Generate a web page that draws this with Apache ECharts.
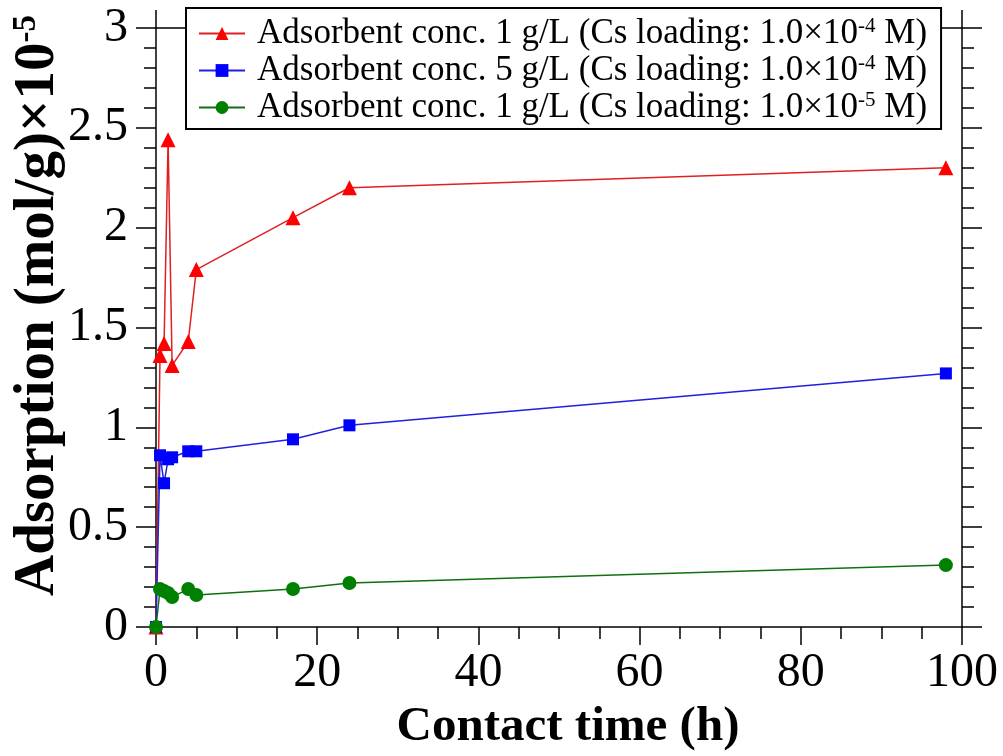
<!DOCTYPE html>
<html><head><meta charset="utf-8">
<script src="https://cdn.jsdelivr.net/npm/echarts@6/dist/echarts.min.js"></script>
<style>html,body{margin:0;padding:0;background:#fff}#c{width:1003px;height:756px}</style>
</head><body><div id="c"></div>
<script>
const timeRed = [0, 0.5, 1, 1.5, 2, 4, 5, 17, 24, 98];
const red = [0, 1.36, 1.42, 2.44, 1.31, 1.43, 1.79, 2.05, 2.20, 2.30];
const timeBlue = [0, 0.5, 1, 1.5, 2, 4, 5, 17, 24, 98];
const blue = [0, 0.86, 0.72, 0.84, 0.85, 0.88, 0.88, 0.94, 1.01, 1.27];
const timeGreen = [0, 0.5, 1, 1.5, 2, 4, 5, 17, 24, 98];
const green = [0, 0.19, 0.18, 0.17, 0.15, 0.19, 0.16, 0.19, 0.22, 0.31];
const names = [
  'Adsorbent conc. 1 g/L (Cs loading: 1.0×10-4 M)',
  'Adsorbent conc. 5 g/L (Cs loading: 1.0×10-4 M)',
  'Adsorbent conc. 1 g/L (Cs loading: 1.0×10-5 M)'
];
const legendRich = [
  ['Adsorbent conc. 1 g/L (Cs loading: 1.0×10', '-4', ' M)'],
  ['Adsorbent conc. 5 g/L (Cs loading: 1.0×10', '-4', ' M)'],
  ['Adsorbent conc. 1 g/L (Cs loading: 1.0×10', '-5', ' M)']
];
const xTicks = [0, 20, 40, 60, 80, 100];
const yTicks = [0, 0.5, 1, 1.5, 2, 2.5, 3];

function pairs(xs, ys){ return xs.map((x,i)=>[x, ys[i]]); }

const serif = '"Liberation Serif", "DejaVu Serif", serif';
const chart = echarts.init(document.getElementById('c'), null, {renderer:'canvas'});
const axLine = {show:true, onZero:false, lineStyle:{color:'#000', width:1.5}};
const baseX = {
  type:'value', min:0, max:100, interval:20,
  axisLine:axLine, splitLine:{show:false},
  axisTick:{show:true, inside:false, length:18, lineStyle:{color:'#000', width:1.5}},
  minorTick:{show:true, splitNumber:4, length:12, lineStyle:{color:'#000', width:1.5}}
};
const baseY = {
  type:'value', min:0, max:3, interval:0.5,
  axisLine:axLine, splitLine:{show:false},
  axisTick:{show:true, inside:false, length:20, lineStyle:{color:'#000', width:1.5}},
  minorTick:{show:true, splitNumber:5, length:12, lineStyle:{color:'#000', width:1.5}}
};
const option = {
  animation:false,
  backgroundColor:'#fff',
  grid:{left:156, right:41, top:28, bottom:129, containLabel:false, outerBoundsMode:'none'},
  legend:{
    data:names, orient:'vertical', left:186, top:8,
    backgroundColor:'#fff', borderColor:'#000', borderWidth:2, borderRadius:0,
    padding:[8,14,4,12], itemGap:2, itemWidth:46, itemHeight:16,
    formatter:function(n){ const r = legendRich[names.indexOf(n)]; return '{f|'+r[0]+'}{s|'+r[1]+'}{a|'+r[2]+'}'; },
    textStyle:{ rich:{
      f:{fontFamily:serif, fontSize:35, color:'#000', lineHeight:35, padding:[0,0,0,7]},
      a:{fontFamily:serif, fontSize:35, color:'#000', lineHeight:35},
      s:{fontFamily:serif, fontSize:21, color:'#000', verticalAlign:'top', lineHeight:35, padding:[0,0,14,0]}
    }}
  },
  xAxis:[
    Object.assign({}, baseX, {position:'bottom',
      name:'Contact time (h)', nameLocation:'middle', nameGap:76, nameMoveOverlap:false,
      nameTextStyle:{fontFamily:serif, fontWeight:'bold', fontSize:49, color:'#000', padding:[0,0,0,18]},
      axisLabel:{show:true, margin:22, fontFamily:serif, fontSize:48, color:'#000',
        formatter:v=>xTicks.includes(v)?String(v):''}}),
    Object.assign({}, baseX, {position:'top', axisLabel:{show:false}})
  ],
  yAxis:[
    Object.assign({}, baseY, {position:'left',
      name:'{t|Adsorption (mol/g)×10}{s|-5}', nameLocation:'middle', nameGap:89, nameMoveOverlap:false,
      nameTextStyle:{padding:[0,0,0,44], rich:{
        t:{fontFamily:serif, fontWeight:'bold', fontSize:57, color:'#000'},
        s:{fontFamily:serif, fontWeight:'bold', fontSize:33, color:'#000', verticalAlign:'top', padding:[0,0,22,0]}
      }},
      axisLabel:{show:true, margin:28, fontFamily:serif, fontSize:48, color:'#000',
        formatter:v=>yTicks.includes(v)?String(v):''}}),
    Object.assign({}, baseY, {position:'right', axisLabel:{show:false}})
  ],
  series:[
    {name:names[0], type:'line', data:pairs(timeRed, red), xAxisIndex:0, yAxisIndex:0,
     symbol:'triangle', symbolSize:15, showAllSymbol:true,
     itemStyle:{color:'#ff0000'}, lineStyle:{color:'#e02020', width:1.5}},
    {name:names[1], type:'line', data:pairs(timeBlue, blue),
     symbol:'rect', symbolSize:12, showAllSymbol:true,
     itemStyle:{color:'#0000ff'}, lineStyle:{color:'#2020e0', width:1.5}},
    {name:names[2], type:'line', data:pairs(timeGreen, green),
     symbol:'circle', symbolSize:14, showAllSymbol:true,
     itemStyle:{color:'#008000'}, lineStyle:{color:'#107010', width:1.5}}
  ]
};
chart.setOption(option);
</script></body></html>
